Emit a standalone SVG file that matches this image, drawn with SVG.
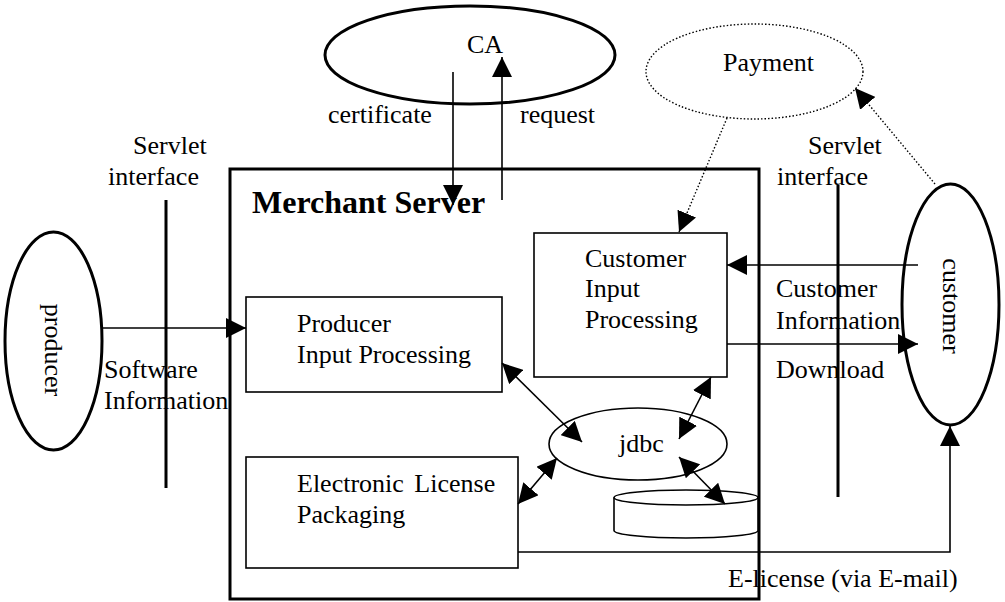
<svg xmlns="http://www.w3.org/2000/svg" width="1005" height="602" viewBox="0 0 1005 602">
  <style>
    text { font-family: "Liberation Serif", "Times New Roman", serif; font-size: 26px; fill: #000; }
    .bold { font-weight: bold; font-size: 32px; }
    .thick { fill: none; stroke: #000; stroke-width: 3; }
    .thin { fill: #fff; stroke: #000; stroke-width: 1.6; }
    .edge { fill: none; stroke: #000; stroke-width: 1.6; }
    .dot { fill: none; stroke: #000; stroke-width: 1.4; stroke-dasharray: 1.5 2; }
    .bar { stroke: #000; stroke-width: 3; }
  </style>
  <defs>
    <marker id="arr" markerUnits="userSpaceOnUse" markerWidth="20" markerHeight="20" refX="20" refY="10" orient="auto">
      <path d="M0,0 L20,10 L0,20 z" fill="#000"/>
    </marker>
    <marker id="arrs" markerUnits="userSpaceOnUse" markerWidth="20" markerHeight="20" refX="20" refY="10" orient="auto-start-reverse">
      <path d="M0,0 L20,10 L0,20 z" fill="#000"/>
    </marker>
  </defs>

  <rect width="1005" height="602" fill="#fff"/>

  <!-- Merchant server frame -->
  <g id="merchant-server">
    <rect class="thick" x="230" y="169" width="529" height="430"/>
    <text class="bold" x="252" y="213">Merchant Server</text>
  </g>

  <!-- Servlet interface bars -->
  <g id="servlet-left">
    <line class="bar" x1="166" y1="200" x2="166" y2="488"/>
    <text x="133" y="154">Servlet</text>
    <text x="108" y="185">interface</text>
  </g>
  <g id="servlet-right">
    <line class="bar" x1="838" y1="185" x2="838" y2="497"/>
    <text x="808" y="154">Servlet</text>
    <text x="777" y="185">interface</text>
  </g>

  <g id="ca">
    <ellipse class="thick" cx="470" cy="55" rx="145" ry="49"/>
    <text x="467" y="53">CA</text>
  </g>

  <g id="payment">
    <ellipse class="dot" cx="754.5" cy="71.5" rx="108.5" ry="47.5"/>
    <text x="723" y="71">Payment</text>
  </g>

  <g id="producer">
    <ellipse class="thick" cx="53.5" cy="341" rx="48.5" ry="109"/>
    <text transform="translate(45,350) rotate(90)" text-anchor="middle">producer</text>
  </g>

  <g id="customer">
    <ellipse class="thick" cx="950.5" cy="304.5" rx="48.5" ry="120.5"/>
    <text transform="translate(943,306) rotate(90)" text-anchor="middle">customer</text>
  </g>

  <g id="producer-input">
    <rect class="thin" x="246" y="297" width="256" height="95"/>
    <text x="297" y="332">Producer</text>
    <text x="297" y="363">Input Processing</text>
  </g>

  <g id="customer-input">
    <rect class="thin" x="534" y="233" width="193" height="144"/>
    <text x="585" y="267">Customer</text>
    <text x="585" y="297">Input</text>
    <text x="585" y="328">Processing</text>
  </g>

  <g id="license-packaging">
    <rect class="thin" x="246" y="457" width="272" height="111"/>
    <text x="297" y="492" word-spacing="4">Electronic License</text>
    <text x="297" y="523">Packaging</text>
  </g>

  <g id="jdbc">
    <ellipse class="thin" cx="638" cy="444" rx="89" ry="36"/>
    <text x="619" y="452">jdbc</text>
  </g>

  <g id="database">
    <path class="thin" d="M614,497.5 L614,530.5 A72,7.5 0 0 0 758,530.5 L758,497.5"/>
    <ellipse class="thin" cx="686" cy="497.5" rx="72" ry="7.5"/>
  </g>

  <!-- Connectors -->
  <g id="connectors">
    <line class="edge" x1="453" y1="72" x2="453" y2="205" marker-end="url(#arr)"/>
    <line class="edge" x1="502" y1="200" x2="502" y2="57" marker-end="url(#arr)"/>
    <line class="edge" x1="102" y1="328" x2="246" y2="328" marker-end="url(#arr)"/>
    <line class="edge" x1="918" y1="265" x2="727" y2="265" marker-end="url(#arr)"/>
    <line class="edge" x1="727" y1="344" x2="918" y2="344" marker-end="url(#arr)"/>
    <line class="dot" x1="727" y1="118" x2="679" y2="232" marker-end="url(#arr)"/>
    <line class="dot" x1="935" y1="184" x2="855" y2="88" marker-end="url(#arr)"/>
    <polyline class="edge" points="518,552 950,552 950,426" marker-end="url(#arr)"/>
    <line class="edge" x1="502" y1="363" x2="582" y2="442" marker-start="url(#arrs)" marker-end="url(#arrs)"/>
    <line class="edge" x1="711" y1="377" x2="679" y2="439" marker-start="url(#arrs)" marker-end="url(#arrs)"/>
    <line class="edge" x1="518" y1="504" x2="557" y2="458" marker-start="url(#arrs)" marker-end="url(#arrs)"/>
    <line class="edge" x1="679" y1="457" x2="725" y2="504" marker-start="url(#arrs)" marker-end="url(#arrs)"/>
  </g>

  <!-- Connector labels -->
  <g id="labels">
    <text x="328" y="123">certificate</text>
    <text x="520" y="123">request</text>
    <text x="104" y="378">Software</text>
    <text x="104" y="409">Information</text>
    <text x="776" y="297">Customer</text>
    <text x="776" y="329">Information</text>
    <text x="776" y="378">Download</text>
    <text x="728" y="587">E-license (via E-mail)</text>
  </g>
</svg>
